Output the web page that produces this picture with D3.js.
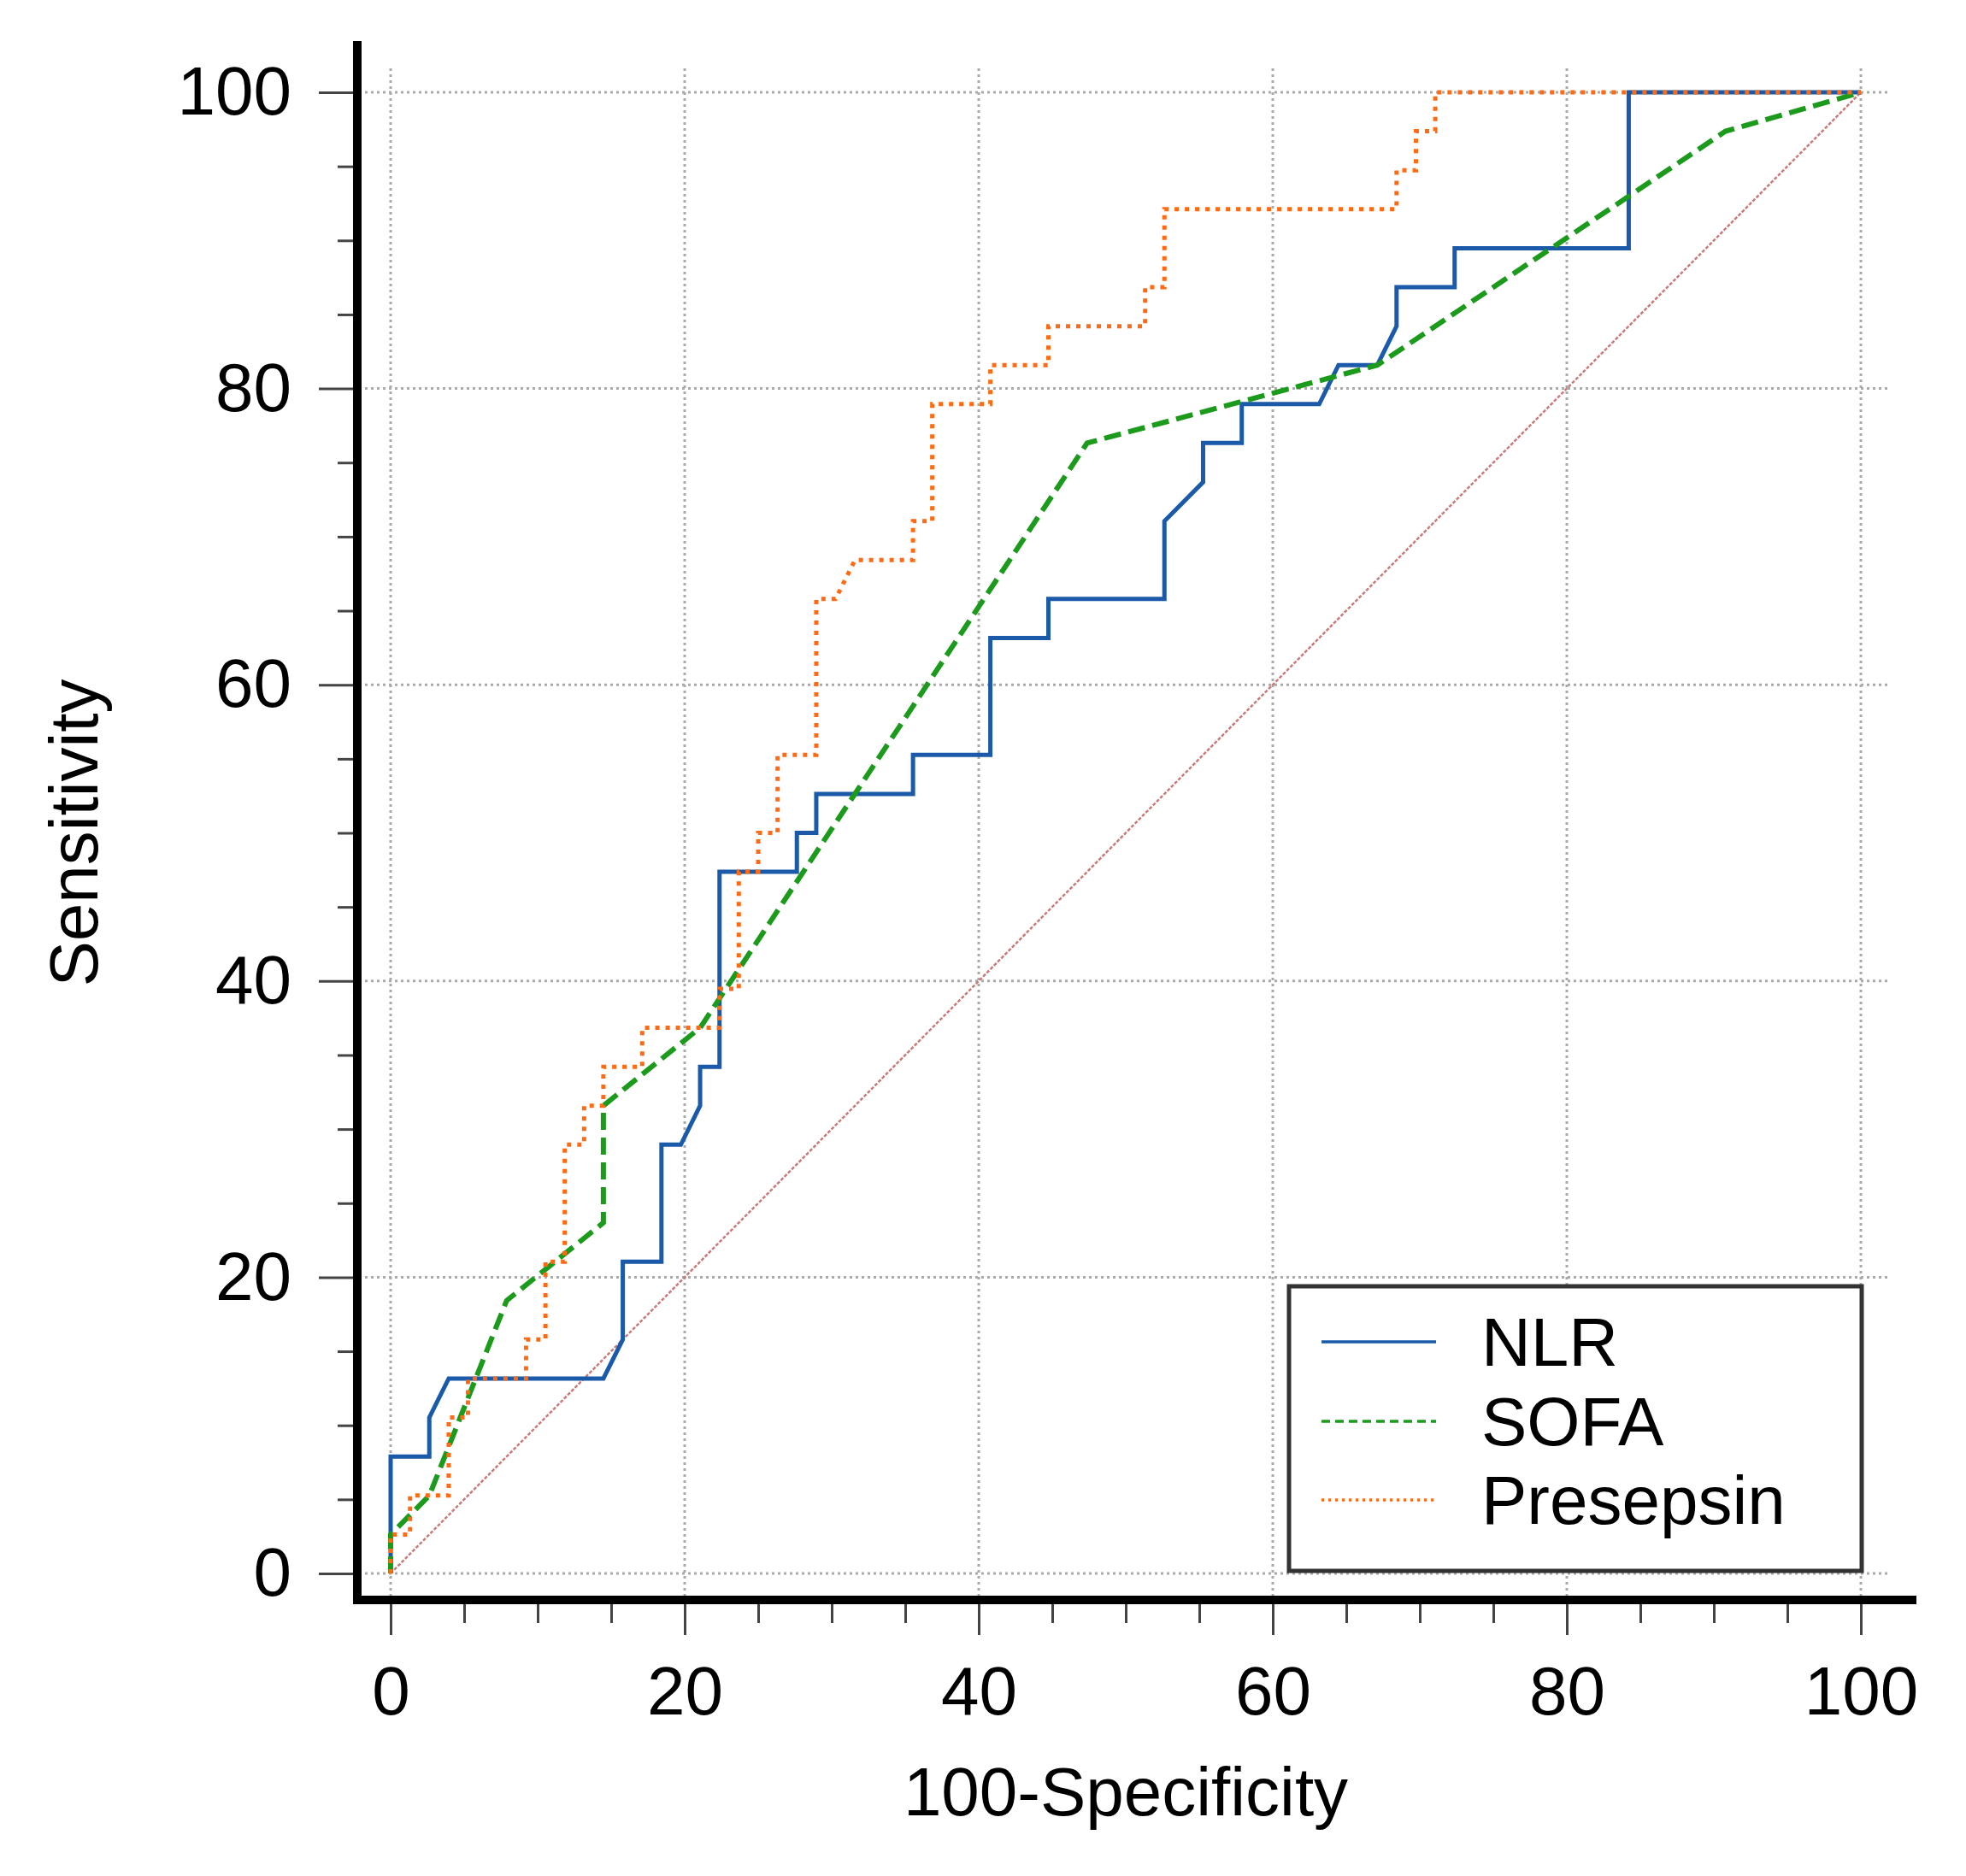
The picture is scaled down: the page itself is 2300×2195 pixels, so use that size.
<!DOCTYPE html>
<html>
<head>
<meta charset="utf-8">
<script src="https://cdn.jsdelivr.net/npm/d3@7"></script>
<style>
  html, body { margin: 0; padding: 0; background: #fff; }
  svg { display: block; }
  text { font-family: "Liberation Sans", Arial, sans-serif; fill: #000; }
</style>
</head>
<body>
<script>
// ---------- DATA ----------
const majorTicks = [0, 20, 40, 60, 80, 100];
const minorTicks = [5, 10, 15, 25, 30, 35, 45, 50, 55, 65, 70, 75, 85, 90, 95];
const seriesNames = ["NLR", "SOFA", "Presepsin"];

// NLR (100-Specificity, Sensitivity)
const nlrX = [0, 0, 2.63, 2.63, 3.95, 14.47, 15.79, 15.79, 18.42, 18.42, 19.74, 21.05, 21.05, 22.37, 22.37, 27.63, 27.63, 28.95, 28.95, 35.53, 35.53, 40.79, 40.79, 44.74, 44.74, 52.63, 52.63, 55.26, 55.26, 57.89, 57.89, 63.16, 64.47, 67.11, 68.42, 68.42, 72.37, 72.37, 84.21, 84.21, 100];
const nlrY = [0, 7.89, 7.89, 10.53, 13.16, 13.16, 15.79, 21.05, 21.05, 28.95, 28.95, 31.58, 34.21, 34.21, 47.37, 47.37, 50.0, 50.0, 52.63, 52.63, 55.26, 55.26, 63.16, 63.16, 65.79, 65.79, 71.05, 73.68, 76.32, 76.32, 78.95, 78.95, 81.58, 81.58, 84.21, 86.84, 86.84, 89.47, 89.47, 100, 100];

// SOFA
const sofaX = [0, 0, 2.63, 7.89, 14.47, 14.47, 21.05, 47.37, 67.11, 90.79, 100];
const sofaY = [0, 2.63, 5.26, 18.42, 23.68, 31.58, 36.84, 76.32, 81.58, 97.37, 100];

// Presepsin
const presX = [0, 0, 1.32, 1.32, 3.95, 3.95, 5.26, 5.26, 9.21, 9.21, 10.53, 10.53, 11.84, 11.84, 13.16, 13.16, 14.47, 14.47, 17.11, 17.11, 22.37, 22.37, 23.68, 23.68, 25.0, 25.0, 26.32, 26.32, 28.95, 28.95, 30.26, 31.58, 35.53, 35.53, 36.84, 36.84, 40.79, 40.79, 44.74, 44.74, 51.32, 51.32, 52.63, 52.63, 68.42, 68.42, 69.74, 69.74, 71.05, 71.05, 100];
const presY = [0, 2.63, 2.63, 5.26, 5.26, 10.53, 10.53, 13.16, 13.16, 15.79, 15.79, 21.05, 21.05, 28.95, 28.95, 31.58, 31.58, 34.21, 34.21, 36.84, 36.84, 39.47, 39.47, 47.37, 47.37, 50.0, 50.0, 55.26, 55.26, 65.79, 65.79, 68.42, 68.42, 71.05, 71.05, 78.95, 78.95, 81.58, 81.58, 84.21, 84.21, 86.84, 86.84, 92.11, 92.11, 94.74, 94.74, 97.37, 97.37, 100, 100];

// Reference diagonal
const refX = [0, 100];
const refY = [0, 100];

// ---------- CHART ----------
const W = 2300, H = 2195;
const svg = d3.select("body").append("svg").attr("width", W).attr("height", H);
svg.append("rect").attr("width", W).attr("height", H).attr("fill", "#fff");

const x = d3.scaleLinear().domain([0, 100]).range([457, 2177]);
const y = d3.scaleLinear().domain([0, 100]).range([1841, 108]);

const axisLeftX = 413;     // left edge of y axis line
const axisBottomY = 1877;  // bottom edge of x axis line

// gridlines
const grid = svg.append("g").attr("stroke", "#aaaaaa").attr("stroke-width", 3).attr("stroke-dasharray", "3,4");
grid.selectAll("line.h").data(majorTicks).join("line")
  .attr("x1", 427).attr("x2", 2212)
  .attr("y1", d => y(d)).attr("y2", d => y(d));
grid.selectAll("line.v").data(majorTicks).join("line")
  .attr("x1", d => x(d)).attr("x2", d => x(d))
  .attr("y1", 80).attr("y2", 1867);

// line generator
const line = d3.line().x(d => x(d[0])).y(d => y(d[1]));
const zip = (a, b) => a.map((v, i) => [v, b[i]]);

// diagonal
svg.append("path").datum(zip(refX, refY)).attr("d", line)
  .attr("fill", "none").attr("stroke", "#c97a7a").attr("stroke-width", 2.5).attr("stroke-dasharray", "4,2");

// NLR
svg.append("path").datum(zip(nlrX, nlrY)).attr("d", line)
  .attr("fill", "none").attr("stroke", "#1a5aa8").attr("stroke-width", 5).attr("stroke-linejoin", "miter");
// SOFA
svg.append("path").datum(zip(sofaX, sofaY)).attr("d", line)
  .attr("fill", "none").attr("stroke", "#1c9a1c").attr("stroke-width", 6).attr("stroke-dasharray", "20,9");
// Presepsin
svg.append("path").datum(zip(presX, presY)).attr("d", line)
  .attr("fill", "none").attr("stroke", "#ff6a12").attr("stroke-width", 5).attr("stroke-dasharray", "5,7");

// axes
const fmt = d3.format("d");
const yAxis = svg.append("g").attr("transform", `translate(${axisLeftX},0)`)
  .call(d3.axisLeft(y).tickValues(majorTicks).tickSize(40).tickPadding(32).tickFormat(fmt));
const yMinor = svg.append("g").attr("transform", `translate(${axisLeftX},0)`)
  .call(d3.axisLeft(y).tickValues(minorTicks).tickSize(18).tickFormat(""));
const xAxis = svg.append("g").attr("transform", `translate(0,${axisBottomY})`)
  .call(d3.axisBottom(x).tickValues(majorTicks).tickSize(36).tickPadding(36).tickFormat(fmt));
const xMinor = svg.append("g").attr("transform", `translate(0,${axisBottomY})`)
  .call(d3.axisBottom(x).tickValues(minorTicks).tickSize(22).tickFormat(""));

[yAxis, yMinor, xAxis, xMinor].forEach(g => {
  g.select(".domain").remove();
  g.selectAll(".tick line").attr("stroke", "#444").attr("stroke-width", 3);
  g.selectAll(".tick text").attr("font-size", 80).attr("font-family", '"Liberation Sans", Arial, sans-serif').attr("fill", "#000");
});

// thick axis lines
svg.append("line").attr("x1", 418).attr("x2", 418).attr("y1", 48).attr("y2", 1877)
  .attr("stroke", "#000").attr("stroke-width", 10);
svg.append("line").attr("x1", 413).attr("x2", 2242).attr("y1", 1872).attr("y2", 1872)
  .attr("stroke", "#000").attr("stroke-width", 10);

// axis titles
svg.append("text").attr("x", (x(0) + x(100)) / 2).attr("y", 2124)
  .attr("text-anchor", "middle").attr("font-size", 80).text("100-Specificity");
svg.append("text").attr("transform", `translate(114,${(y(0) + y(100)) / 2}) rotate(-90)`)
  .attr("text-anchor", "middle").attr("font-size", 80).text("Sensitivity");

// legend
const leg = svg.append("g");
leg.append("rect").attr("x", 1508).attr("y", 1505).attr("width", 670).attr("height", 333)
  .attr("fill", "#fff").attr("stroke", "#333").attr("stroke-width", 5);
const legStyles = [
  { color: "#1a5aa8", dash: null },
  { color: "#1c9a1c", dash: "10,6" },
  { color: "#ff6a12", dash: "3,5" }
];
const rowY = [1570, 1663, 1755];
seriesNames.forEach((name, i) => {
  const l = leg.append("line").attr("x1", 1546).attr("x2", 1680).attr("y1", rowY[i]).attr("y2", rowY[i])
    .attr("stroke", legStyles[i].color).attr("stroke-width", 3.5);
  if (legStyles[i].dash) l.attr("stroke-dasharray", legStyles[i].dash);
  leg.append("text").attr("x", 1733).attr("y", rowY[i] + 28).attr("font-size", 80).text(name);
});
</script>
</body>
</html>
